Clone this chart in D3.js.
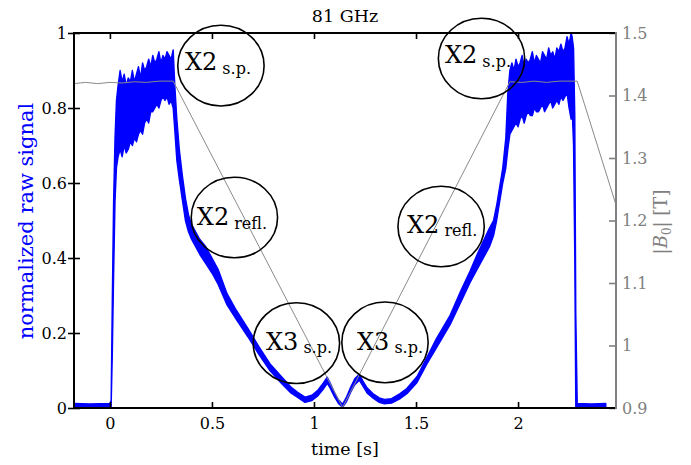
<!DOCTYPE html>
<html><head><meta charset="utf-8">
<script src="https://cdn.jsdelivr.net/npm/d3@7"></script>
<style>
body{margin:0;background:#fff;}
text{font-family:"DejaVu Serif",serif;}
</style></head>
<body>
<svg id="c" width="691" height="465"></svg>
<script>
// ---------- data ----------
const xTicks = [0, 0.5, 1, 1.5, 2];
const xTickLabels = ["0", "0.5", "1", "1.5", "2"];
const yTicks = [0, 0.2, 0.4, 0.6, 0.8, 1];
const yTickLabels = ["0", "0.2", "0.4", "0.6", "0.8", "1"];
const bTicks = [0.9, 1.0, 1.1, 1.2, 1.3, 1.4, 1.5];
const bTickLabels = ["0.9", "1", "1.1", "1.2", "1.3", "1.4", "1.5"];

// normalized raw signal: time [s], lower and upper envelope of the noisy trace
const sigT = [-0.176,-0.1,0.0,0.006,0.012,0.018,0.025,0.032,
  0.04,0.05,0.06,0.07,0.08,0.09,0.10,0.11,0.12,0.13,0.14,0.15,0.16,0.17,0.18,0.19,0.20,
  0.21,0.22,0.23,0.24,0.25,0.26,0.27,0.28,0.29,0.30,0.31,
  0.318,0.328,0.34,0.355,0.37,0.385,0.40,0.42,0.44,0.47,0.50,0.53,0.574,0.62,0.676,0.73,
  0.784,0.84,0.887,0.92,0.956,0.99,1.02,1.045,1.065,1.08,1.10,1.12,1.14,1.16,1.18,1.20,
  1.222,1.24,1.26,1.29,1.32,1.345,1.38,1.42,1.455,1.505,1.554,1.60,1.667,1.72,1.765,1.80,
  1.83,1.86,1.88,1.895,1.91,1.925,1.94,1.95,1.96,
  1.97,1.98,1.99,2.00,2.01,2.02,2.03,2.04,2.05,2.06,2.07,2.08,2.09,2.10,2.11,2.12,2.13,
  2.14,2.15,2.16,2.17,2.18,2.19,2.20,2.21,2.22,2.23,2.24,2.25,2.26,2.265,2.272,
  2.278,2.283,2.29,2.36,2.43];
const sigLo = [0.002,0.003,0.002,0.003,0.15,0.35,0.55,0.64,
  0.67,0.69,0.67,0.70,0.68,0.69,0.71,0.70,0.72,0.71,0.73,0.74,0.73,0.76,0.77,0.76,0.79,
  0.79,0.80,0.81,0.80,0.82,0.83,0.82,0.83,0.81,0.82,0.80,
  0.74,0.66,0.61,0.555,0.50,0.47,0.45,0.43,0.41,0.385,0.36,0.33,0.275,0.236,0.19,0.143,
  0.10,0.066,0.04,0.028,0.015,0.02,0.033,0.05,0.066,0.052,0.03,0.012,0.002,0.018,0.042,0.062,
  0.074,0.058,0.04,0.026,0.015,0.011,0.013,0.024,0.038,0.068,0.118,0.16,0.222,0.283,0.335,0.37,
  0.40,0.43,0.46,0.50,0.55,0.60,0.64,0.69,0.73,
  0.74,0.75,0.76,0.75,0.77,0.78,0.76,0.78,0.79,0.78,0.78,0.80,0.79,0.79,0.80,0.81,0.79,
  0.80,0.81,0.82,0.80,0.81,0.82,0.81,0.83,0.82,0.83,0.84,0.80,0.77,0.80,0.70,
  0.40,0.0,0.001,0.002,0.002];
const sigHi = [0.012,0.011,0.012,0.02,0.30,0.55,0.72,0.82,
  0.86,0.90,0.87,0.89,0.86,0.88,0.87,0.90,0.87,0.89,0.91,0.88,0.92,0.90,0.91,0.93,0.91,
  0.94,0.92,0.93,0.95,0.92,0.94,0.93,0.95,0.94,0.93,0.955,
  0.86,0.77,0.69,0.62,0.56,0.515,0.49,0.47,0.45,0.43,0.40,0.37,0.305,0.26,0.212,0.164,
  0.118,0.084,0.056,0.042,0.029,0.034,0.048,0.066,0.082,0.066,0.042,0.022,0.01,0.03,0.056,0.078,
  0.09,0.072,0.054,0.038,0.027,0.023,0.025,0.038,0.052,0.084,0.136,0.185,0.247,0.313,0.365,0.41,
  0.445,0.48,0.50,0.54,0.59,0.64,0.72,0.84,0.90,
  0.92,0.90,0.93,0.91,0.92,0.94,0.91,0.93,0.92,0.93,0.95,0.92,0.94,0.93,0.92,0.95,0.94,
  0.93,0.96,0.94,0.95,0.93,0.96,0.95,0.97,0.95,0.96,0.99,0.97,1.00,0.99,0.96,
  0.78,0.25,0.012,0.011,0.012];

// |B0| [T] versus time [s]
const bT = [-0.176,-0.12,-0.06,0.0,0.06,0.12,0.18,0.24,0.31,1.14,1.96,2.02,2.08,2.14,2.20,2.29,2.48];
const bV = [1.419,1.421,1.419,1.421,1.420,1.422,1.421,1.423,1.423,0.901,1.422,1.421,1.423,1.421,1.423,1.423,1.225];

// annotations (ellipse centre and text start, in data units)
const annoMain = ["X2", "X2", "X2", "X2", "X3", "X3"];
const annoSub = ["s.p.", "s.p.", "refl.", "refl.", "s.p.", "s.p."];
const annoCx = [0.544, 1.821, 0.610, 1.623, 0.914, 1.348];
const annoCy = [0.913, 0.932, 0.508, 0.484, 0.173, 0.175];
const annoTx = [0.368, 1.642, 0.426, 1.456, 0.765, 1.211];
const annoTy = [0.901, 0.920, 0.488, 0.467, 0.155, 0.155];
const annoRx = 0.2115, annoRy = 0.1075;

// ---------- drawing ----------
const svg = d3.select("#c");
const L = 74, R = 616, T = 33, B = 408;
const x = d3.scaleLinear().domain([-0.176, 2.48]).range([L, R]);
const y = d3.scaleLinear().domain([0, 1]).range([B, T]);
const yB = d3.scaleLinear().domain([0.9, 1.5]).range([B, T]);
const gray = "#808080";
const FONT = "DejaVu Serif";

svg.append("clipPath").attr("id", "pc").append("rect")
  .attr("x", L).attr("y", T - 1).attr("width", R - L).attr("height", B - T + 1);

const idx = d3.range(sigT.length);
svg.append("path").attr("clip-path", "url(#pc)")
  .attr("d", d3.area().x(i => x(sigT[i])).y0(i => y(sigLo[i])).y1(i => y(sigHi[i]))(idx))
  .attr("fill", "#0000ff").attr("stroke", "#0000ff").attr("stroke-width", 1.4)
  .attr("stroke-linejoin", "round");

svg.append("path").attr("clip-path", "url(#pc)")
  .attr("d", d3.line().x(i => x(bT[i])).y(i => yB(bV[i]))(d3.range(bT.length)))
  .attr("fill", "none").attr("stroke", "#8a8a8a").attr("stroke-width", 1);

// ellipses + labels
annoMain.forEach((m, i) => {
  svg.append("ellipse")
    .attr("cx", x(annoCx[i])).attr("cy", y(annoCy[i]))
    .attr("rx", x(annoRx) - x(0)).attr("ry", y(0) - y(annoRy))
    .attr("fill", "none").attr("stroke", "#000").attr("stroke-width", 1.6);
  const t = svg.append("text").attr("x", x(annoTx[i])).attr("y", y(annoTy[i]))
    .attr("fill", "#000").attr("font-family", FONT);
  t.append("tspan").attr("font-size", 24).text(m);
  t.append("tspan").attr("font-size", 16).attr("dx", 5).attr("dy", 3.5).text(annoSub[i]);
});

// axes
const gL = svg.append("g").attr("transform", `translate(${L},0)`)
  .call(d3.axisLeft(y).tickValues(yTicks).tickFormat((d, i) => yTickLabels[i]).tickSize(6).tickPadding(1));
gL.selectAll(".tick line").attr("x1", 6).attr("x2", -6);
const gBt = svg.append("g").attr("transform", `translate(0,${B})`)
  .call(d3.axisBottom(x).tickValues(xTicks).tickFormat((d, i) => xTickLabels[i]).tickSize(-6).tickPadding(10));
const gTp = svg.append("g").attr("transform", `translate(0,${T})`)
  .call(d3.axisTop(x).tickValues(xTicks).tickFormat("").tickSize(-6));
const gR = svg.append("g").attr("transform", `translate(${R},0)`)
  .call(d3.axisRight(yB).tickValues(bTicks).tickFormat((d, i) => bTickLabels[i]).tickSize(-7).tickPadding(6));

[gL, gBt, gTp, gR].forEach(g => {
  g.attr("font-family", FONT).attr("font-size", 16);
  g.select(".domain").remove();
  g.selectAll("text").attr("font-family", FONT).attr("font-size", 16);
  g.selectAll(".tick line").attr("stroke-width", 1.6);
});
gL.selectAll("text").attr("fill", "#000");
gBt.selectAll("text").attr("fill", "#000");
gL.selectAll("line").attr("stroke", "#000");
gBt.selectAll("line").attr("stroke", "#000");
gTp.selectAll("line").attr("stroke", "#000");
gR.selectAll("line").attr("stroke", gray);
gR.selectAll("text").attr("fill", gray);

svg.append("line").attr("x1", L).attr("x2", R).attr("y1", T).attr("y2", T).attr("stroke", "#000").attr("stroke-width", 2);
svg.append("line").attr("x1", L).attr("x2", R).attr("y1", B).attr("y2", B).attr("stroke", "#000").attr("stroke-width", 2);
svg.append("line").attr("x1", L).attr("x2", L).attr("y1", T - 1).attr("y2", B + 1).attr("stroke", "#000").attr("stroke-width", 2);
svg.append("line").attr("x1", R).attr("x2", R).attr("y1", T - 1).attr("y2", B + 1).attr("stroke", gray).attr("stroke-width", 2);

// titles / labels
svg.append("text").attr("x", (L + R) / 2).attr("y", 22).attr("text-anchor", "middle")
  .attr("font-family", FONT).attr("font-size", 17.5).attr("fill", "#000").text("81 GHz");
svg.append("text").attr("x", (L + R) / 2).attr("y", 455).attr("text-anchor", "middle")
  .attr("font-family", FONT).attr("font-size", 17.5).attr("fill", "#000").text("time [s]");
svg.append("text").attr("transform", `translate(33,221) rotate(-90)`).attr("text-anchor", "middle")
  .attr("font-family", FONT).attr("font-size", 21).attr("fill", "#0000ff").text("normalized raw signal");
const rl = svg.append("text").attr("transform", `translate(667,222) rotate(-90)`).attr("text-anchor", "middle")
  .attr("font-family", FONT).attr("font-size", 18).attr("fill", gray);
rl.append("tspan").text("|");
rl.append("tspan").attr("font-style", "italic").text("B");
rl.append("tspan").attr("font-size", 12).attr("dy", 4).text("0");
rl.append("tspan").attr("dy", -4).text("| [T]");
</script>
</body></html>
